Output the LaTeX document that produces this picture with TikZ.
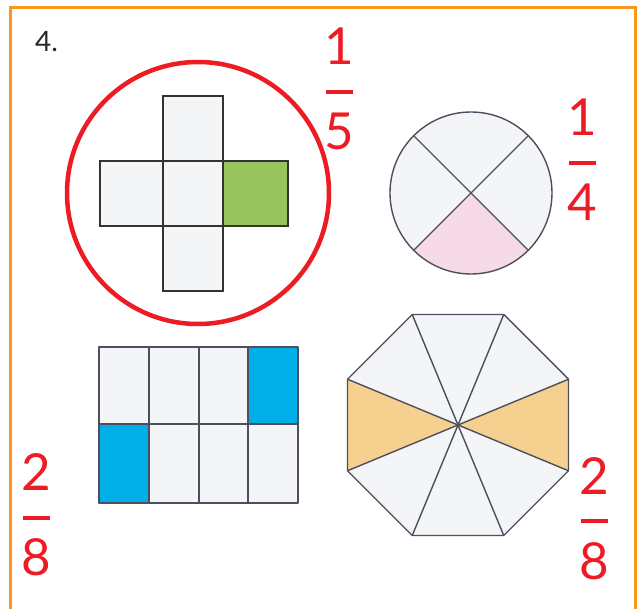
\documentclass[tikz,border=0pt]{standalone}
\usepackage{fontspec}
\setmainfont{Lato}
\usepackage{tikz}
\usetikzlibrary{positioning}
\definecolor{frameorange}{RGB}{248,152,32}
\definecolor{markred}{RGB}{237,28,36}
\definecolor{paleface}{RGB}{244,245,247}
\definecolor{edgegray}{RGB}{78,78,94}
\definecolor{leafgreen}{RGB}{151,196,92}
\definecolor{skyblue}{RGB}{0,174,232}
\definecolor{softpink}{RGB}{246,218,231}
\definecolor{sandorange}{RGB}{246,208,142}

\begin{document}
\begin{tikzpicture}[x=1pt, y=-1pt]
    % Styles
    \tikzstyle{digit} = [inner sep=0pt, outer sep=0pt, text=markred, font=\fontsize{51}{51}\selectfont]
    \tikzstyle{fracbar} = [rectangle, fill=markred, inner sep=0pt, outer sep=0pt, minimum width=27pt, minimum height=3.5pt]
    \tikzstyle{part} = [draw=edgegray, line width=1.4pt, line join=round]
    \tikzstyle{square} = [draw=black!80, line width=1.3pt, fill=paleface]

    \useasboundingbox (0,0) rectangle (641,609);
    \fill[white] (0,0) rectangle (641,609);

    % Frame
    \draw[frameorange, line width=2.5pt] (10.5,609) |- (635.5,7.5) -- (635.5,609);
    \node (label) [anchor=base west, inner sep=0pt, text=black!85, font=\fontsize{28}{28}\selectfont] at (35,52) {4.};

    % Cross of five squares
    \draw[square] (163,96) rectangle (223,161);
    \draw[square] (100,161) rectangle (163,226);
    \draw[square] (163,161) rectangle (223,226);
    \draw[square, fill=leafgreen] (223,161) rectangle (288,226);
    \draw[square] (163,226) rectangle (223,291);
    \draw[markred, line width=4.5pt] (198,193) circle (131);

    % Circle in quarters
    \coordinate (wheel) at (471,193);
    \fill[paleface] (wheel) circle (81);
    \begin{scope}
        \clip (wheel) circle (81);
        \fill[softpink] (wheel) -- +(45:130) -- +(135:130) -- cycle;
    \end{scope}
    \draw[part] (wheel) +(45:81) -- +(225:81) +(135:81) -- +(315:81);
    \draw[part] (wheel) circle (81);

    % Grid of eight
    \fill[paleface] (99,347) rectangle (298,503);
    \fill[skyblue] (248,347) rectangle (298,424);
    \fill[skyblue] (99,424) rectangle (149,503);
    \draw[part] (149,347) -- (149,503) (199,347) -- (199,503) (248,347) -- (248,503) (99,424) -- (298,424);
    \draw[part] (99,347) rectangle (298,503);

    % Octagon in eighths
    \coordinate (octa) at (458,425);
    \fill[paleface] (octa) +(22.5:119.6) -- +(67.5:119.6) -- +(112.5:119.6) -- +(157.5:119.6)
        -- +(202.5:119.6) -- +(247.5:119.6) -- +(292.5:119.6) -- +(337.5:119.6) -- cycle;
    \fill[sandorange] (octa) -- +(-22.5:119.6) -- +(22.5:119.6) -- cycle;
    \fill[sandorange] (octa) -- +(157.5:119.6) -- +(202.5:119.6) -- cycle;
    \foreach \a in {22.5,67.5,...,337.5}
        \draw[part] (octa) -- +(\a:119.6);
    \draw[part] (octa) +(22.5:119.6) -- +(67.5:119.6) -- +(112.5:119.6) -- +(157.5:119.6)
        -- +(202.5:119.6) -- +(247.5:119.6) -- +(292.5:119.6) -- +(337.5:119.6) -- cycle;

    % Fractions
    \node (barA) [fracbar] at (339.5,92) {};
    \node (numA) [digit, above=26pt of barA] {1};
    \node (denA) [digit, below=19pt of barA] {5};

    \node (barB) [fracbar] at (582.5,163) {};
    \node (numB) [digit, above=26pt of barB] {1};
    \node (denB) [digit, below=19pt of barB] {4};

    \node (barC) [fracbar] at (36.5,518) {};
    \node (numC) [digit, above=26pt of barC] {2};
    \node (denC) [digit, below=19pt of barC] {8};

    \node (barD) [fracbar] at (594,521) {};
    \node (numD) [digit, above=25pt of barD] {2};
    \node (denD) [digit, below=20pt of barD] {8};
\end{tikzpicture}
\end{document}
